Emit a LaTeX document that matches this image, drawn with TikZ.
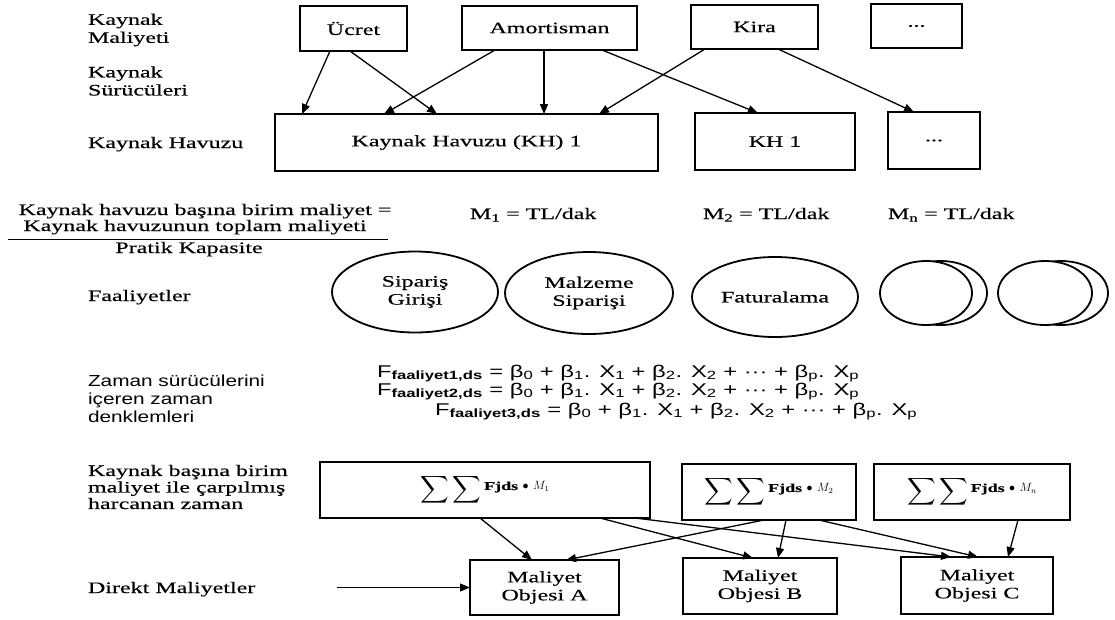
\documentclass[tikz,border=0pt]{standalone}
\usepackage{amsmath}
\usepackage{fontspec}
\setmainfont{Liberation Serif}[FakeStretch=1.5,FakeBold=0.3]
\newfontfamily\lblfont{Liberation Sans}[FakeStretch=1.3]
\newfontfamily\eqfont{Liberation Sans}[FakeStretch=1.4]
\usetikzlibrary{arrows.meta,calc,shapes.geometric}
\begin{document}
\begin{tikzpicture}[x=1pt,y=-1pt,
  every node/.style={font=\fontsize{16}{18}\selectfont, inner sep=0pt, outer sep=0pt},
  box/.style={draw, line width=1.8pt, align=center},
  oval/.style={draw, ellipse, line width=1.8pt, align=center},
  arr/.style={-{Triangle[length=10pt,width=8pt]}, line width=1.3pt},
  lbl/.style={align=left},
  lblsans/.style={font=\lblfont\fontsize{16}{18}\selectfont},
  eqf/.style={font=\eqfont\fontsize{17}{18}\selectfont}
]
\newcommand{\sumsym}{\scalebox{1.15}[1.1]{$\displaystyle\sum\sum$}}
\newcommand{\fj}[1]{\raisebox{0.3em}{\fontsize{12}{12}\selectfont\textbf{Fjds} $\bullet$ $M_{#1}$}}
\useasboundingbox (0,0) rectangle (1115,619);
% left labels
\node[lbl, anchor=west] (l1) at (88,30) {Kaynak\\Maliyeti};
\node[lbl, anchor=west] (l2) at (88,81) {Kaynak\\Sürücüleri};
\node[anchor=base west] (l3) at (88,148) {Kaynak Havuzu};
% top row
\node[box, minimum width=107, minimum height=45] (ucret) at (353.5,28.5) {Ücret};
\node[box, minimum width=175, minimum height=44] (amort) at (549.5,28) {Amortisman};
\node[box, minimum width=127, minimum height=44] (kira) at (754.5,27) {Kira};
\node[box, minimum width=91, minimum height=44] (dots1) at (916.5,26) {...};
% pools
\node[box, minimum width=383, minimum height=57] (kh) at (466.5,142.5) {Kaynak Havuzu (KH) 1};
\node[box, minimum width=160, minimum height=57] (kh1) at (775,141.5) {KH 1};
\node[box, minimum width=92, minimum height=57] (dots2) at (934,140.5) {...};
% top arrows
\draw[arr] ($(ucret.south west)+(30,0)$) -- ($(kh.north west)+(27,0)$);
\draw[arr] ($(ucret.south west)+(50,0)$) -- ($(kh.north west)+(162,0)$);
\draw[arr] ($(amort.south west)+(33,0)$) -- ($(kh.north west)+(109,0)$);
\draw[arr] ($(amort.south west)+(82,0)$) -- ($(kh.north west)+(269,0)$);
\draw[arr] ($(amort.south west)+(140,0)$) -- ($(kh1.north west)+(63,0)$);
\draw[arr] ($(kira.south west)+(14,0)$) -- ($(kh.north west)+(324,0)$);
\draw[arr] ($(kira.south west)+(87,0)$) -- ($(dots2.north west)+(26,0)$);
% unit cost formula
\node[anchor=base] (f1) at (205,215) {Kaynak havuzu başına birim maliyet =};
\node[anchor=base] (f2) at (195,231) {Kaynak havuzunun toplam maliyeti};
\draw[line width=1pt] (8,239) -- (388,239);
\node[anchor=base] (f3) at (189,253) {Pratik Kapasite};
\node[anchor=base west] (m1) at (470,219) {M\textsubscript{1} = TL/dak};
\node[anchor=base west] (m2) at (703,219) {M\textsubscript{2} = TL/dak};
\node[anchor=base west] (mn) at (888,219) {M\textsubscript{n} = TL/dak};
% activities
\node[anchor=base west] (l4) at (88,301) {Faaliyetler};
\node[oval, minimum width=166, minimum height=81] (sip) at (415,292) {Sipariş\\Girişi};
\node[oval, minimum width=168, minimum height=82] (malz) at (589,293) {Malzeme\\Siparişi};
\node[oval, minimum width=166, minimum height=80] (fat) at (775,297) {Faturalama};
\node[oval, minimum width=92, minimum height=64] (p1b) at (941,293) {};
\node[oval, fill=white, minimum width=92, minimum height=64] (p1f) at (926,293) {};
\node[oval, minimum width=94, minimum height=64] (p2b) at (1061,293) {};
\node[oval, fill=white, minimum width=94, minimum height=64] (p2f) at (1045,293) {};
% time equations
\node[lbl, lblsans, anchor=west] (l5) at (88,399) {Zaman sürücülerini\\içeren zaman\\denklemleri};
\node[eqf, anchor=base west] (e1) at (377,377) {F\textsubscript{\textbf{faaliyet1,ds}} = β\textsubscript{0} + β\textsubscript{1}. X\textsubscript{1} + β\textsubscript{2}. X\textsubscript{2} + ··· + β\textsubscript{p}. X\textsubscript{p}};
\node[eqf, anchor=base west] (e2) at (377,395) {F\textsubscript{\textbf{faaliyet2,ds}} = β\textsubscript{0} + β\textsubscript{1}. X\textsubscript{1} + β\textsubscript{2}. X\textsubscript{2} + ··· + β\textsubscript{p}. X\textsubscript{p}};
\node[eqf, anchor=base west] (e3) at (435,415) {F\textsubscript{\textbf{faaliyet3,ds}} = β\textsubscript{0} + β\textsubscript{1}. X\textsubscript{1} + β\textsubscript{2}. X\textsubscript{2} + ··· + β\textsubscript{p}. X\textsubscript{p}};
% bottom labels
\node[lbl, anchor=west, font=\fontsize{16}{16.5}\selectfont] (l6) at (88,487) {Kaynak başına birim\\maliyet ile çarpılmış\\harcanan zaman};
\node[anchor=base west] (l7) at (88,593) {Direkt Maliyetler};
% sum boxes
\node[box, minimum width=330, minimum height=56] (sm1) at (485,490) {\sumsym\,\fj{1}};
\node[box, minimum width=174, minimum height=56] (sm2) at (769,492) {\sumsym\,\fj{2}};
\node[box, minimum width=196, minimum height=56] (smn) at (972,492) {\sumsym\,\fj{n}};
% cost objects
\node[box, minimum width=149, minimum height=55] (oa) at (544.5,587.5) {Maliyet\\Objesi A};
\node[box, minimum width=154, minimum height=56] (ob) at (760,586) {Maliyet\\Objesi B};
\node[box, minimum width=152, minimum height=57] (oc) at (977,585.5) {Maliyet\\Objesi C};
% bottom arrows
\draw[arr] ($(sm1.south west)+(160,0)$) -- ($(oa.north west)+(62,0)$);
\draw[arr] ($(sm1.south west)+(280,0)$) -- ($(ob.north west)+(70,0)$);
\draw[arr] ($(sm1.south west)+(315,0)$) -- ($(oc.north west)+(50,0)$);
\draw[arr] ($(sm2.south west)+(82,0)$) -- ($(oa.north west)+(96,0)$);
\draw[arr] ($(sm2.south west)+(104,0)$) -- ($(ob.north west)+(95,0)$);
\draw[arr] ($(sm2.south west)+(137,0)$) -- ($(oc.north west)+(77,0)$);
\draw[arr] ($(smn.south west)+(144,0)$) -- ($(oc.north west)+(107,0)$);
\coordinate (dstart) at (337,587.5);
\draw[arr, line width=1pt] (dstart) -- (oa.west);
\end{tikzpicture}
\end{document}
